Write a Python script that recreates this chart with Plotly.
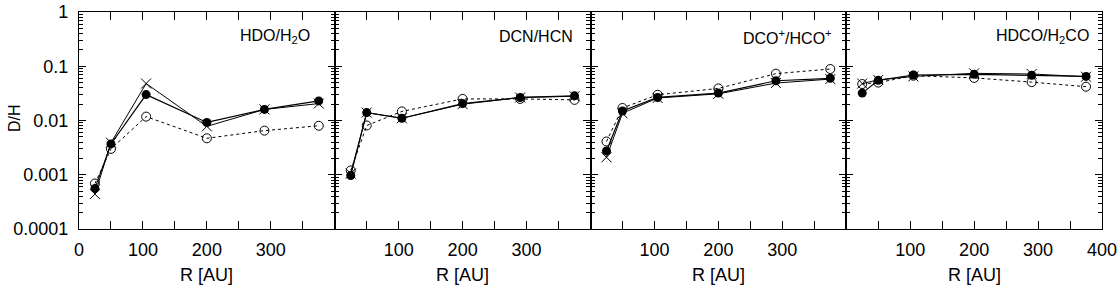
import plotly.graph_objects as go

# ---------------- data ----------------
R = [25, 50, 105, 200, 290, 375]

hdo_filled = [5.6e-4, 3.7e-3, 0.030, 9.2e-3, 0.016, 0.023]
hdo_cross = [4.4e-4, 3.9e-3, 0.048, 7.8e-3, 0.016, 0.0205]
hdo_open = [6.9e-4, 3.0e-3, 0.0118, 4.7e-3, 6.5e-3, 8.0e-3]

dcn_filled = [9.7e-4, 0.014, 0.011, 0.0205, 0.0266, 0.0285]
dcn_cross = [1.05e-3, 0.014, 0.011, 0.020, 0.0265, 0.028]
dcn_open = [1.2e-3, 8.1e-3, 0.0147, 0.025, 0.025, 0.024]

dco_filled = [2.75e-3, 0.015, 0.0266, 0.032, 0.054, 0.060]
dco_cross = [2.1e-3, 0.0136, 0.026, 0.031, 0.049, 0.058]
dco_open = [4.1e-3, 0.017, 0.0298, 0.039, 0.073, 0.089]

hdco_filled = [0.032, 0.055, 0.069, 0.071, 0.068, 0.065]
hdco_cross = [0.048, 0.056, 0.065, 0.074, 0.072, 0.064]
hdco_open = [0.047, 0.050, 0.067, 0.061, 0.051, 0.042]

panel_labels = ["HDO/H<sub>2</sub>O", "DCN/HCN", "DCO<sup>+</sup>/HCO<sup>+</sup>", "HDCO/H<sub>2</sub>CO"]
panels = [
    (hdo_filled, hdo_cross, hdo_open),
    (dcn_filled, dcn_cross, dcn_open),
    (dco_filled, dco_cross, dco_open),
    (hdco_filled, hdco_cross, hdco_open),
]
y_tickvals = [1e-4, 1e-3, 1e-2, 1e-1, 1]
y_ticktext = ["0.0001", "0.001", "0.01", "0.1", "1"]
x_labels_by_panel = [
    [0, 100, 200, 300],
    [100, 200, 300],
    [100, 200, 300],
    [100, 200, 300, 400],
]
x_all_ticks = [0, 50, 100, 150, 200, 250, 300, 350, 400]
x_title = "R [AU]"
y_title = "D/H"

# ---------------- layout geometry ----------------
W, H = 1118, 285
FONT = "Liberation Sans, Arial, Helvetica, sans-serif"
left0 = 79
pw = 255.75
top_px, bot_px = 12, 229
label_right_px = [312, 575, 834, 1091]

minor_y = []
for e in range(-4, 0):
    for d in range(2, 10):
        minor_y.append(d * 10 ** e)

fig = go.Figure()

for i, (filled, cross, opn) in enumerate(panels):
    xa = "x" if i == 0 else f"x{i+1}"
    ya = "y" if i == 0 else f"y{i+1}"
    fig.add_trace(go.Scatter(
        x=R, y=opn, xaxis=xa, yaxis=ya, mode="lines+markers",
        line=dict(color="black", width=1, dash="3px,3px"),
        marker=dict(symbol="circle-open", size=9, color="black", line=dict(width=1, color="black")),
        showlegend=False, cliponaxis=False, hoverinfo="skip"))
    fig.add_trace(go.Scatter(
        x=R, y=cross, xaxis=xa, yaxis=ya, mode="lines+markers",
        line=dict(color="black", width=1),
        marker=dict(symbol="x-thin-open", size=10, color="black", line=dict(width=1, color="black")),
        showlegend=False, cliponaxis=False, hoverinfo="skip"))
    fig.add_trace(go.Scatter(
        x=R, y=filled, xaxis=xa, yaxis=ya, mode="lines+markers",
        line=dict(color="black", width=1.2),
        marker=dict(symbol="circle", size=9, color="black"),
        showlegend=False, cliponaxis=False, hoverinfo="skip"))

    x0 = (left0 + i * pw) / W
    x1 = (left0 + (i + 1) * pw) / W
    xkey = "xaxis" if i == 0 else f"xaxis{i+1}"
    ykey = "yaxis" if i == 0 else f"yaxis{i+1}"
    labs = x_labels_by_panel[i]
    fig.layout[xkey] = dict(
        domain=[x0, x1], anchor=ya, range=[0, 400], automargin=False,
        tickvals=labs, ticktext=[str(v) for v in labs],
        ticks="inside", ticklen=8, tickwidth=1.2, tickcolor="black",
        minor=dict(tickvals=[v for v in x_all_ticks if v not in labs], ticks="inside",
                   ticklen=8, tickwidth=1.2, tickcolor="black"),
        showline=True, linecolor="black", linewidth=1.3, mirror="ticks",
        showgrid=False, zeroline=False,
        tickfont=dict(family=FONT, size=18, color="black"),
        ticklabelstandoff=4,
    )
    fig.layout[ykey] = dict(
        domain=[1 - bot_px / H, 1 - top_px / H], anchor=xa, type="log", range=[-4, 0],
        automargin=False,
        tickvals=y_tickvals, ticktext=y_ticktext,
        showticklabels=(i == 0),
        ticks="inside", ticklen=7, tickwidth=1.2, tickcolor="black",
        minor=dict(tickvals=minor_y, ticks="inside", ticklen=4, tickwidth=1, tickcolor="black"),
        showline=True, linecolor="black", linewidth=1.3, mirror="ticks",
        showgrid=False, zeroline=False,
        tickfont=dict(family=FONT, size=18, color="black"),
        ticklabelstandoff=6,
    )
    fig.add_annotation(
        x=label_right_px[i] / W, y=1 - 37 / H, xref="paper", yref="paper",
        xanchor="right", yanchor="middle", text=panel_labels[i], showarrow=False,
        font=dict(family=FONT, size=16, color="black"))
    fig.add_annotation(
        x=(left0 + i * pw + pw / 2) / W, y=1 - 275 / H, xref="paper", yref="paper",
        xanchor="center", yanchor="middle", text=x_title, showarrow=False,
        font=dict(family=FONT, size=18, color="black"))

fig.add_annotation(
    x=15 / W, y=1 - 118 / H, xref="paper", yref="paper",
    xanchor="center", yanchor="middle", text=y_title, showarrow=False, textangle=-90,
    font=dict(family=FONT, size=16, color="black"))

fig.update_layout(
    width=W, height=H, margin=dict(l=0, r=0, t=0, b=0, pad=0, autoexpand=False),
    paper_bgcolor="white", plot_bgcolor="white",
    font=dict(family=FONT, color="black"),
    hovermode=False,
)

fig.write_html(
    "out.html",
    config={"displayModeBar": False, "responsive": False},
    post_script="document.body.style.margin='0';document.body.style.overflow='hidden';",
)
